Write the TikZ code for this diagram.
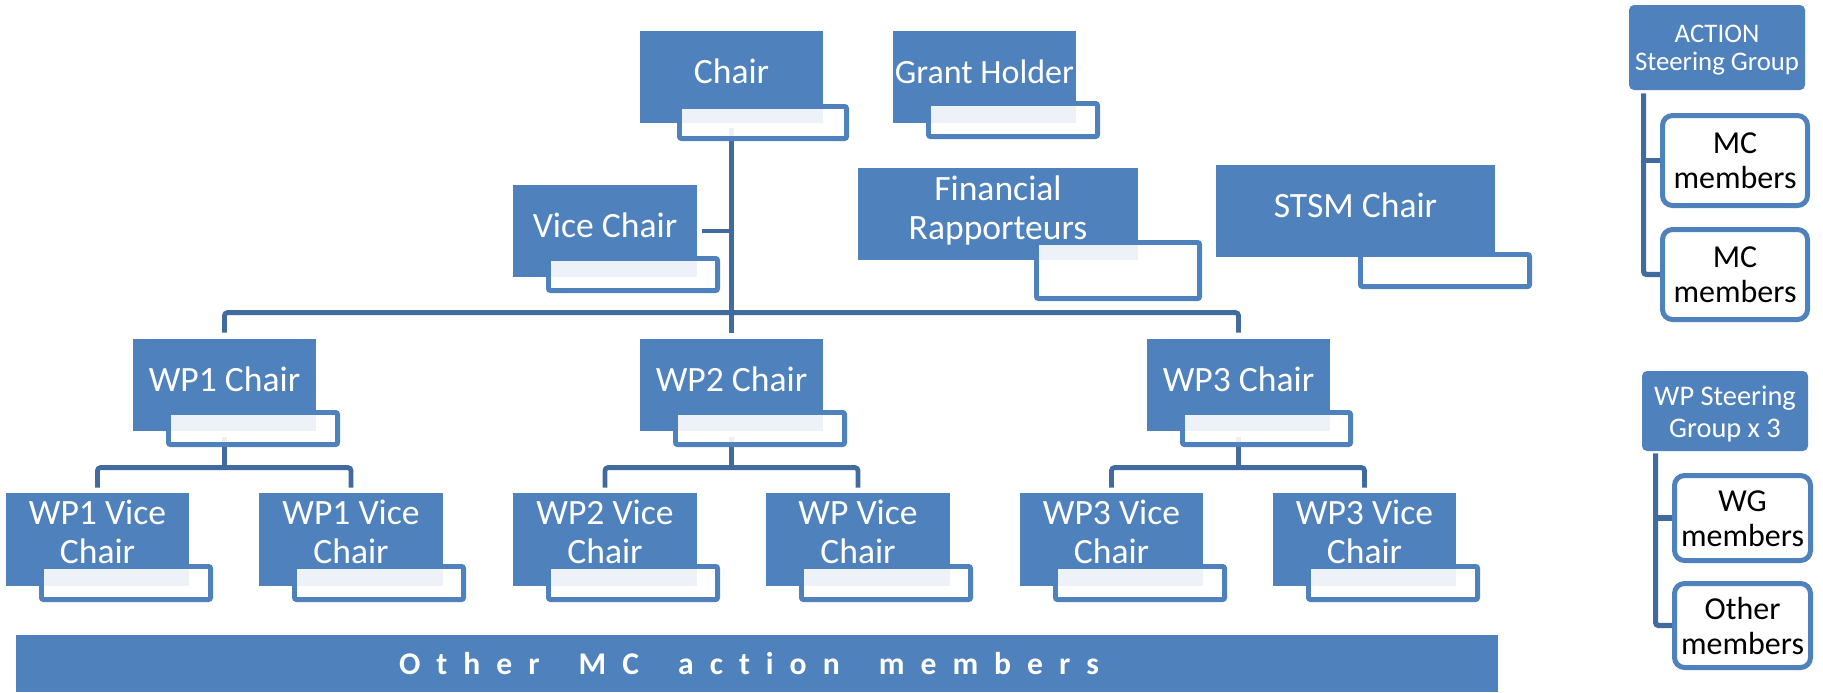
\documentclass[tikz,border=0pt]{standalone}
\usepackage{fontspec}
\setmainfont{Carlito}
\usetikzlibrary{calc}
\definecolor{cblue}{HTML}{4F81BD}
\definecolor{cline}{HTML}{416A9E}
\pgfdeclarelayer{bg}\pgfdeclarelayer{wb}\pgfdeclarelayer{fg}
\pgfsetlayers{bg,wb,main,fg}
\tikzset{
 bluebox/.style={rectangle, fill=cblue, draw=none, inner sep=0pt},
 btext/.style={text=white, align=center, font=\fontsize{17.8}{19.5}\selectfont, inner sep=0pt, execute at begin node=\strut},
 conn/.style={draw=cline, line width=2.4pt, rounded corners=1.5pt},
 wline/.style={draw=cblue, line width=2.5pt, rounded corners=1pt},
 rbox/.style={rectangle, fill=cblue, draw=none, inner sep=0pt, rounded corners=2.5pt},
 obox/.style={rectangle, fill=white, draw=cblue, line width=2.5pt, inner sep=0pt, rounded corners=5pt},
 otext/.style={text=black, align=center, font=\fontsize{16}{17.5}\selectfont, inner sep=0pt, execute at begin node=\strut},
 rtext/.style={text=white, align=center, inner sep=0pt, execute at begin node=\strut},
}
\newcommand\bbox[6]{%
 \node[bluebox, minimum width={(#4-#2)*0.5pt}, minimum height={(#5-#3)*0.5pt}] (#1) at ({(#2+#4)/2},{(#3+#5)/2}) {};
 \node[btext] (#1-t) at ({(#2+#4)/2},{#3+45}) {#6};}
\newcommand\wbox[4]{%
 \begin{pgfonlayer}{wb}\draw[wline] (#1+2.5,#2+2.5) rectangle (#3-2.5,#4-2.5);\end{pgfonlayer}
 \begin{pgfonlayer}{fg}\fill[white, fill opacity=0.9] (#1+5,#2+5) rectangle (#3-5,#4-5);\end{pgfonlayer}}
\newcommand\myls{\hspace{8pt}}
\newcommand\myws{\hspace{11.6pt}}
\begin{document}
\begin{tikzpicture}[x=0.5pt,y=-0.5pt]
\useasboundingbox (0,0) rectangle (1823,692);
% top level
\bbox{chair}{640}{31}{823}{123}{Chair}
\wbox{677}{104}{849}{141}
\bbox{grant}{893}{31}{1076}{123}{\fontsize{17}{19.5}\selectfont Grant Holder}
\wbox{926}{101}{1100}{139}
\bbox{vice}{513}{185}{697}{277}{Vice Chair}
\wbox{546}{256}{720}{293}
\bbox{fin}{858}{168}{1138}{260}{Financial\\\strut Rapporteurs}
\wbox{1034}{240}{1202}{301}
\bbox{stsm}{1216}{165}{1495}{257}{STSM Chair}
\wbox{1358}{252}{1532}{289}
% WP chairs
\bbox{wp1}{133}{339}{316}{431}{WP1 Chair}
\wbox{166}{410}{340}{447}
\bbox{wp2}{640}{339}{823}{431}{WP2 Chair}
\wbox{673}{410}{847}{447}
\bbox{wp3}{1147}{339}{1330}{431}{WP3 Chair}
\wbox{1180}{410}{1353}{447}
% vice chairs
\bbox{v11}{6}{493}{189}{586}{WP1 Vice\\\strut Chair}
\wbox{39}{564}{213}{602}
\bbox{v12}{259}{493}{443}{586}{WP1 Vice\\\strut Chair}
\wbox{292}{564}{466}{602}
\bbox{v21}{513}{493}{697}{586}{WP2 Vice\\\strut Chair}
\wbox{546}{564}{720}{602}
\bbox{v22}{766}{493}{950}{586}{WP Vice\\\strut Chair}
\wbox{799}{564}{973}{602}
\bbox{v31}{1020}{493}{1203}{586}{WP3 Vice\\\strut Chair}
\wbox{1053}{564}{1227}{602}
\bbox{v32}{1273}{493}{1456}{586}{WP3 Vice\\\strut Chair}
\wbox{1306}{564}{1480}{602}
% bottom bar
\node[bluebox, minimum width=741pt, minimum height=28.5pt] (bar) at (757,663.5) {};
\node[text=white, inner sep=0pt, font=\fontsize{15.8}{19}\selectfont\bfseries] (bar-t) at (749,667)
 {\strut O\myls t\myls h\myls e\myls r\myls\myws M\myls C\myls\myws a\myls c\myls t\myls i\myls o\myls n\myls\myws m\myls e\myls m\myls b\myls e\myls r\myls s};
% right side
\node[rbox, minimum width=88pt, minimum height=42.5pt] (action) at (1717,47.5) {};
\node[rtext, font=\fontsize{13.4}{14}\selectfont] (action-t) at (1717,52) {ACTION\\\strut Steering Group};
\node[obox, minimum width=72.5pt, minimum height=45pt] (mc1) at (1735,160.5) {};
\node[otext] (mc1-t) at (1735,166) {MC\\\strut members};
\node[obox, minimum width=72.5pt, minimum height=45pt] (mc2) at (1735,274.5) {};
\node[otext] (mc2-t) at (1735,280) {MC\\\strut members};
\node[rbox, minimum width=83pt, minimum height=40pt] (wpsg) at (1725,411) {};
\node[rtext, font=\fontsize{14.2}{16}\selectfont] (wpsg-t) at (1725,417) {WP Steering\\\strut Group x 3};
\node[obox, minimum width=68pt, minimum height=42.5pt] (wg) at (1742.5,518) {};
\node[otext] (wg-t) at (1742.5,523.5) {WG\\\strut members};
\node[obox, minimum width=68pt, minimum height=42pt] (oth) at (1742.5,625.5) {};
\node[otext] (oth-t) at (1742.5,631) {Other\\\strut members};
\coordinate (acx) at ($(action.south west)+(15,3)$);
\coordinate (wpx) at ($(wpsg.south west)+(14,2)$);
% connectors
\begin{pgfonlayer}{bg}
\draw[conn] ($(chair.south)+(0,5)$) -- ($(wp2.north)+(0,-6)$);
\draw[conn] ($(vice.east)+(5,0)$) -- (vice.east -| chair.south);
\draw[conn] ($(wp1.north)+(0,-6)$) -- ++(0,-20) -| ($(wp3.north)+(0,-6)$);
\draw[conn] ($(wp1.south)+(0,6)$) -- ($(wp1.south)+(0,37)$);
\draw[conn] ($(v11.north)+(0,-5)$) -- ++(0,-20) -| ($(v12.north)+(0,-5)$);
\draw[conn] ($(wp2.south)+(0,6)$) -- ($(wp2.south)+(0,37)$);
\draw[conn] ($(v21.north)+(0,-5)$) -- ++(0,-20) -| ($(v22.north)+(0,-5)$);
\draw[conn] ($(wp3.south)+(0,6)$) -- ($(wp3.south)+(0,37)$);
\draw[conn] ($(v31.north)+(0,-5)$) -- ++(0,-20) -| ($(v32.north)+(0,-5)$);
\draw[conn, line width=2.6pt] (acx) |- (mc2.west);
\draw[conn, line width=2.6pt] (acx |- mc1.west) -- (mc1.west);
\draw[conn, line width=2.6pt] (wpx) |- (oth.west);
\draw[conn, line width=2.6pt] (wpx |- wg.west) -- (wg.west);
\end{pgfonlayer}
\end{tikzpicture}
\end{document}
